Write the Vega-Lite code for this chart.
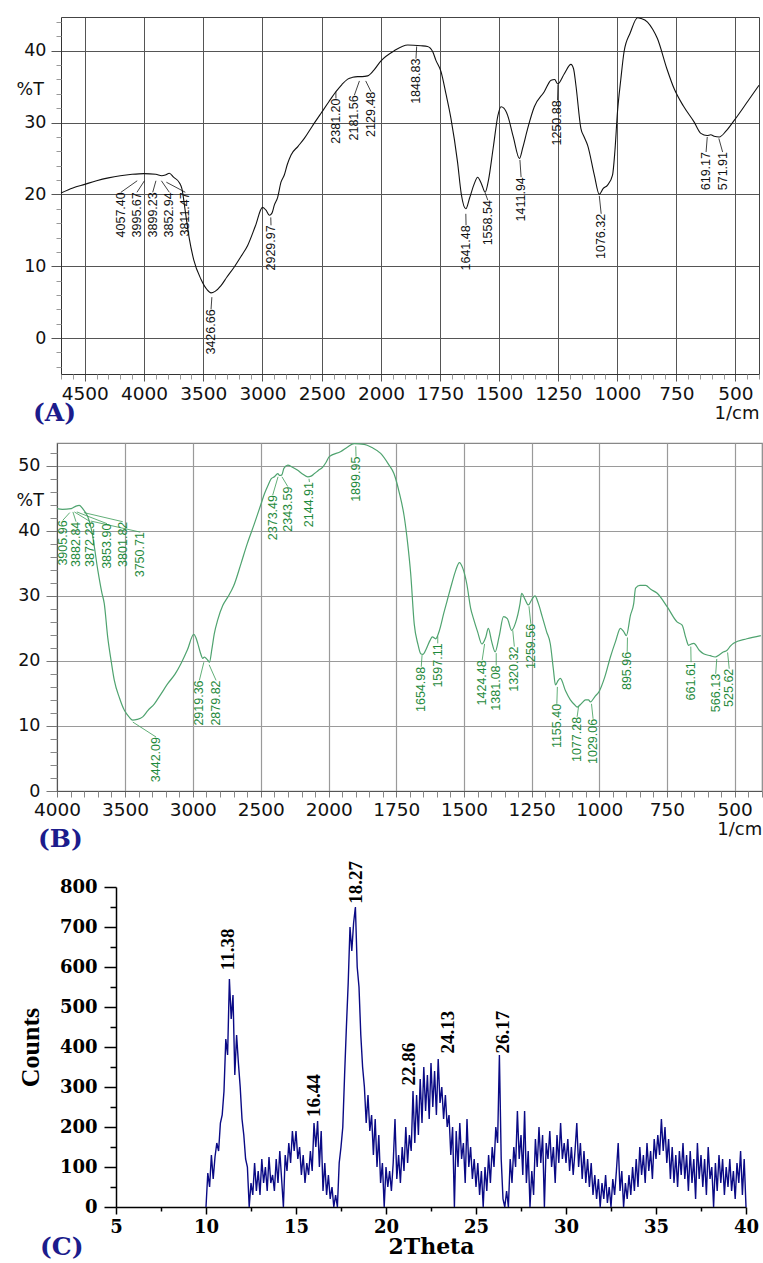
{
"$schema": "https://vega.github.io/schema/vega-lite/v6.json",
"padding": {"left": 15, "top": 15, "right": 0, "bottom": 0},
"background": "white",
"spacing": 8,
"config": {"view": {"stroke": null}, "axis": {"labelFontWeight": "normal", "titleFontWeight": "normal"}, "axisX": {"labelFlush": false}},
"datasets": {
"specA": [{"wn":4700,"t":20.2},{"wn":4600,"t":20.9},{"wn":4500,"t":21.4},{"wn":4400,"t":21.9},{"wn":4300,"t":22.3},{"wn":4200,"t":22.6},{"wn":4100,"t":22.8},{"wn":4000,"t":22.9},{"wn":3900,"t":22.8},{"wn":3850,"t":22.6},{"wn":3820,"t":22.7},{"wn":3786,"t":22.95},{"wn":3750,"t":22.4},{"wn":3700,"t":21.6},{"wn":3680,"t":20.8},{"wn":3650,"t":17.5},{"wn":3617,"t":13.8},{"wn":3580,"t":10.9},{"wn":3519,"t":8.2},{"wn":3470,"t":6.8},{"wn":3434,"t":6.3},{"wn":3400,"t":6.5},{"wn":3350,"t":7.3},{"wn":3300,"t":8.5},{"wn":3238,"t":9.9},{"wn":3180,"t":11.4},{"wn":3125,"t":12.9},{"wn":3060,"t":15.6},{"wn":3000,"t":18.2},{"wn":2970,"t":17.8},{"wn":2942,"t":17.1},{"wn":2920,"t":17.4},{"wn":2900,"t":18.5},{"wn":2872,"t":19.6},{"wn":2844,"t":21.7},{"wn":2816,"t":22.7},{"wn":2790,"t":24.2},{"wn":2759,"t":25.5},{"wn":2700,"t":26.7},{"wn":2647,"t":27.8},{"wn":2580,"t":29.5},{"wn":2506,"t":31.3},{"wn":2440,"t":32.9},{"wn":2380,"t":34.3},{"wn":2330,"t":35.3},{"wn":2281,"t":36.05},{"wn":2240,"t":36.3},{"wn":2197,"t":36.4},{"wn":2160,"t":36.4},{"wn":2113,"t":36.5},{"wn":2060,"t":37.3},{"wn":2000,"t":38.6},{"wn":1944,"t":40.0},{"wn":1887,"t":40.8},{"wn":1831,"t":40.7},{"wn":1803,"t":40.6},{"wn":1780,"t":39.8},{"wn":1768,"t":38.7},{"wn":1746,"t":37.1},{"wn":1725,"t":34.0},{"wn":1704,"t":30.6},{"wn":1676,"t":24.5},{"wn":1660,"t":20.0},{"wn":1641,"t":18.0},{"wn":1625,"t":19.5},{"wn":1605,"t":21.5},{"wn":1591,"t":22.4},{"wn":1575,"t":21.5},{"wn":1559,"t":20.3},{"wn":1545,"t":22.0},{"wn":1525,"t":26.5},{"wn":1505,"t":31.0},{"wn":1492,"t":32.2},{"wn":1480,"t":32.0},{"wn":1464,"t":31.0},{"wn":1440,"t":28.0},{"wn":1414,"t":25.0},{"wn":1400,"t":26.5},{"wn":1379,"t":29.2},{"wn":1351,"t":32.2},{"wn":1309,"t":34.3},{"wn":1280,"t":35.9},{"wn":1265,"t":36.0},{"wn":1252,"t":35.4},{"wn":1224,"t":36.8},{"wn":1196,"t":38.1},{"wn":1185,"t":37.5},{"wn":1175,"t":35.2},{"wn":1154,"t":29.2},{"wn":1140,"t":28.0},{"wn":1125,"t":26.8},{"wn":1097,"t":22.7},{"wn":1076,"t":20.0},{"wn":1060,"t":20.8},{"wn":1041,"t":21.3},{"wn":1020,"t":22.7},{"wn":1010,"t":26.0},{"wn":999,"t":31.5},{"wn":985,"t":36.0},{"wn":971,"t":39.9},{"wn":945,"t":42.5},{"wn":914,"t":44.6},{"wn":900,"t":44.5},{"wn":872,"t":44.0},{"wn":850,"t":43.0},{"wn":830,"t":41.7},{"wn":790,"t":37.5},{"wn":759,"t":34.7},{"wn":720,"t":32.3},{"wn":675,"t":30.1},{"wn":646,"t":28.5},{"wn":620,"t":28.2},{"wn":604,"t":28.3},{"wn":590,"t":28.1},{"wn":568,"t":28.0},{"wn":540,"t":28.8},{"wn":505,"t":30.3},{"wn":449,"t":32.9},{"wn":400,"t":35.2}],
"labA": [{"label":"4057.40","lx":4194,"top":20.3,"wn":4057,"tip":21.9},{"label":"3995.67","lx":4059,"top":20.3,"wn":3996,"tip":21.9},{"label":"3899.23","lx":3926,"top":20.3,"wn":3899,"tip":21.9},{"label":"3852.94","lx":3786,"top":20.3,"wn":3853,"tip":21.9},{"label":"3811.47","lx":3651,"top":20.3,"wn":3811,"tip":21.7},{"label":"3426.66","lx":3434,"top":4.0,"wn":3427,"tip":5.7},{"label":"2929.97","lx":2928,"top":15.7,"wn":2930,"tip":16.8},{"label":"2381.20","lx":2380,"top":33.35,"wn":2381,"tip":34.3},{"label":"2181.56","lx":2225,"top":33.8,"wn":2182,"tip":35.8},{"label":"2129.48","lx":2084,"top":34.3,"wn":2129,"tip":35.8},{"label":"1848.83","lx":1852,"top":38.9,"wn":1849,"tip":40.6},{"label":"1641.48","lx":1640,"top":15.7,"wn":1641,"tip":17.3},{"label":"1558.54","lx":1548,"top":19.2,"wn":1559,"tip":20.2},{"label":"1411.94","lx":1407,"top":22.4,"wn":1412,"tip":24.8},{"label":"1250.88","lx":1253,"top":33.1,"wn":1251,"tip":35.3},{"label":"1076.32","lx":1068,"top":17.3,"wn":1076,"tip":19.8},{"label":"619.17","lx":624,"top":25.9,"wn":619,"tip":28.0},{"label":"571.91","lx":554,"top":25.9,"wn":570,"tip":27.8}],
"specB": [{"wn":4000,"t":43.4},{"wn":3960,"t":43.3},{"wn":3897,"t":43.4},{"wn":3860,"t":43.8},{"wn":3836,"t":43.9},{"wn":3811,"t":43.4},{"wn":3790,"t":42.8},{"wn":3774,"t":42.2},{"wn":3740,"t":39.5},{"wn":3700,"t":34.0},{"wn":3670,"t":30.5},{"wn":3652,"t":28.8},{"wn":3627,"t":23.7},{"wn":3600,"t":19.8},{"wn":3578,"t":17.0},{"wn":3540,"t":14.3},{"wn":3504,"t":12.4},{"wn":3470,"t":11.4},{"wn":3443,"t":10.9},{"wn":3410,"t":11.0},{"wn":3369,"t":11.4},{"wn":3330,"t":12.4},{"wn":3283,"t":13.4},{"wn":3235,"t":14.9},{"wn":3185,"t":16.5},{"wn":3130,"t":18.0},{"wn":3087,"t":19.6},{"wn":3040,"t":21.7},{"wn":2993,"t":24.1},{"wn":2978,"t":23.6},{"wn":2964,"t":22.7},{"wn":2945,"t":21.3},{"wn":2927,"t":20.4},{"wn":2915,"t":20.6},{"wn":2903,"t":20.4},{"wn":2890,"t":20.1},{"wn":2878,"t":19.8},{"wn":2860,"t":21.8},{"wn":2842,"t":24.2},{"wn":2817,"t":26.3},{"wn":2780,"t":28.5},{"wn":2743,"t":29.8},{"wn":2700,"t":31.5},{"wn":2645,"t":35.0},{"wn":2600,"t":38.0},{"wn":2547,"t":41.1},{"wn":2500,"t":44.0},{"wn":2473,"t":45.7},{"wn":2440,"t":47.3},{"wn":2424,"t":48.0},{"wn":2400,"t":48.3},{"wn":2375,"t":48.8},{"wn":2360,"t":48.5},{"wn":2345,"t":48.6},{"wn":2330,"t":49.6},{"wn":2301,"t":50.1},{"wn":2270,"t":49.8},{"wn":2228,"t":49.3},{"wn":2190,"t":48.7},{"wn":2154,"t":48.3},{"wn":2130,"t":48.4},{"wn":2105,"t":48.8},{"wn":2075,"t":49.3},{"wn":2044,"t":49.8},{"wn":2020,"t":50.5},{"wn":1998,"t":51.4},{"wn":1955,"t":52.2},{"wn":1930,"t":52.9},{"wn":1906,"t":53.4},{"wn":1869,"t":53.3},{"wn":1840,"t":52.8},{"wn":1808,"t":51.9},{"wn":1780,"t":50.3},{"wn":1759,"t":48.8},{"wn":1740,"t":46.0},{"wn":1721,"t":42.2},{"wn":1708,"t":38.0},{"wn":1697,"t":33.4},{"wn":1684,"t":25.7},{"wn":1670,"t":22.5},{"wn":1660,"t":21.1},{"wn":1652,"t":21.0},{"wn":1640,"t":21.8},{"wn":1625,"t":23.2},{"wn":1617,"t":23.7},{"wn":1605,"t":23.4},{"wn":1590,"t":24.8},{"wn":1575,"t":27.3},{"wn":1562,"t":29.3},{"wn":1545,"t":31.9},{"wn":1530,"t":34.0},{"wn":1517,"t":35.1},{"wn":1505,"t":34.3},{"wn":1490,"t":31.9},{"wn":1475,"t":28.0},{"wn":1465,"t":26.5},{"wn":1450,"t":24.5},{"wn":1434,"t":22.6},{"wn":1420,"t":23.6},{"wn":1410,"t":25.0},{"wn":1398,"t":23.0},{"wn":1385,"t":21.4},{"wn":1370,"t":23.8},{"wn":1354,"t":26.8},{"wn":1340,"t":26.5},{"wn":1324,"t":24.7},{"wn":1310,"t":25.8},{"wn":1293,"t":28.8},{"wn":1287,"t":30.4},{"wn":1275,"t":29.5},{"wn":1262,"t":28.6},{"wn":1250,"t":29.4},{"wn":1238,"t":30.0},{"wn":1225,"t":28.8},{"wn":1211,"t":26.8},{"wn":1195,"t":24.5},{"wn":1181,"t":22.6},{"wn":1170,"t":18.8},{"wn":1162,"t":16.3},{"wn":1152,"t":17.0},{"wn":1144,"t":17.3},{"wn":1125,"t":15.4},{"wn":1107,"t":14.0},{"wn":1090,"t":13.2},{"wn":1082,"t":12.9},{"wn":1065,"t":13.5},{"wn":1051,"t":14.0},{"wn":1040,"t":14.0},{"wn":1033,"t":13.7},{"wn":1015,"t":14.6},{"wn":1002,"t":15.2},{"wn":980,"t":17.5},{"wn":959,"t":20.6},{"wn":940,"t":23.0},{"wn":922,"t":25.0},{"wn":910,"t":24.5},{"wn":900,"t":23.9},{"wn":885,"t":27.0},{"wn":873,"t":28.8},{"wn":866,"t":31.2},{"wn":850,"t":31.6},{"wn":829,"t":31.6},{"wn":810,"t":31.0},{"wn":786,"t":30.4},{"wn":749,"t":28.3},{"wn":713,"t":26.0},{"wn":694,"t":25.5},{"wn":680,"t":23.5},{"wn":670,"t":22.4},{"wn":660,"t":22.6},{"wn":651,"t":22.7},{"wn":630,"t":21.6},{"wn":615,"t":21.1},{"wn":590,"t":20.8},{"wn":572,"t":20.6},{"wn":555,"t":21.0},{"wn":540,"t":21.4},{"wn":529,"t":21.6},{"wn":515,"t":22.3},{"wn":504,"t":22.7},{"wn":455,"t":23.4},{"wn":403,"t":23.9}],
"labB": [{"label":"3905.96","lx":3958,"top":41.6,"wn":3906,"tip":42.8},{"label":"3882.84","lx":3860,"top":41.4,"wn":3883,"tip":42.9},{"label":"3872.23","lx":3755,"top":41.4,"wn":3872,"tip":42.9},{"label":"3853.90","lx":3632,"top":41.1,"wn":3854,"tip":42.9},{"label":"3801.82","lx":3516,"top":41.4,"wn":3802,"tip":42.8},{"label":"3750.71","lx":3387,"top":39.8,"wn":3751,"tip":41.5},{"label":"3442.09","lx":3271,"top":8.3,"wn":3442,"tip":10.6},{"label":"2919.36","lx":2952,"top":17.0,"wn":2919,"tip":19.8},{"label":"2879.82","lx":2829,"top":17.0,"wn":2880,"tip":19.4},{"label":"2373.49","lx":2412,"top":45.5,"wn":2373,"tip":48.3},{"label":"2343.59","lx":2301,"top":46.8,"wn":2344,"tip":48.3},{"label":"2144.91","lx":2142,"top":47.5,"wn":2145,"tip":48.0},{"label":"1899.95","lx":1899,"top":51.4,"wn":1900,"tip":53.0},{"label":"1654.98","lx":1658,"top":19.1,"wn":1655,"tip":20.9},{"label":"1597.11","lx":1597,"top":22.7,"wn":1597,"tip":23.8},{"label":"1424.48","lx":1433,"top":20.1,"wn":1424,"tip":22.6},{"label":"1381.08","lx":1381,"top":19.3,"wn":1381,"tip":21.2},{"label":"1320.32","lx":1314,"top":22.2,"wn":1320,"tip":24.7},{"label":"1259.56","lx":1253,"top":25.7,"wn":1260,"tip":28.4},{"label":"1155.40","lx":1157,"top":13.4,"wn":1155,"tip":16.0},{"label":"1077.28","lx":1082,"top":11.4,"wn":1077,"tip":12.9},{"label":"1029.06","lx":1023,"top":11.1,"wn":1029,"tip":13.4},{"label":"895.96","lx":897,"top":21.4,"wn":896,"tip":23.6},{"label":"661.61","lx":661,"top":19.8,"wn":662,"tip":22.2},{"label":"566.13","lx":570,"top":18.0,"wn":566,"tip":20.3},{"label":"525.62","lx":520,"top":18.8,"wn":526,"tip":21.3}],
"xrd": [{"theta":10.0,"counts":0},{"theta":10.1,"counts":85},{"theta":10.2,"counts":50},{"theta":10.3,"counts":130},{"theta":10.4,"counts":70},{"theta":10.5,"counts":125},{"theta":10.6,"counts":160},{"theta":10.7,"counts":140},{"theta":10.8,"counts":210},{"theta":10.9,"counts":230},{"theta":11.0,"counts":290},{"theta":11.1,"counts":420},{"theta":11.2,"counts":380},{"theta":11.3,"counts":570},{"theta":11.4,"counts":470},{"theta":11.5,"counts":530},{"theta":11.6,"counts":330},{"theta":11.7,"counts":430},{"theta":11.8,"counts":360},{"theta":11.9,"counts":300},{"theta":12.0,"counts":220},{"theta":12.1,"counts":180},{"theta":12.2,"counts":120},{"theta":12.3,"counts":100},{"theta":12.4,"counts":0},{"theta":12.5,"counts":60},{"theta":12.6,"counts":30},{"theta":12.7,"counts":110},{"theta":12.8,"counts":40},{"theta":12.9,"counts":90},{"theta":13.0,"counts":30},{"theta":13.1,"counts":120},{"theta":13.2,"counts":60},{"theta":13.3,"counts":100},{"theta":13.4,"counts":40},{"theta":13.5,"counts":125},{"theta":13.6,"counts":60},{"theta":13.7,"counts":80},{"theta":13.8,"counts":40},{"theta":13.9,"counts":120},{"theta":14.0,"counts":60},{"theta":14.1,"counts":140},{"theta":14.2,"counts":70},{"theta":14.3,"counts":0},{"theta":14.4,"counts":130},{"theta":14.5,"counts":90},{"theta":14.6,"counts":160},{"theta":14.7,"counts":110},{"theta":14.8,"counts":190},{"theta":14.9,"counts":140},{"theta":15.0,"counts":190},{"theta":15.1,"counts":120},{"theta":15.2,"counts":150},{"theta":15.3,"counts":80},{"theta":15.4,"counts":130},{"theta":15.5,"counts":60},{"theta":15.6,"counts":110},{"theta":15.7,"counts":80},{"theta":15.8,"counts":140},{"theta":15.9,"counts":90},{"theta":16.0,"counts":210},{"theta":16.1,"counts":150},{"theta":16.2,"counts":215},{"theta":16.3,"counts":100},{"theta":16.4,"counts":190},{"theta":16.5,"counts":40},{"theta":16.6,"counts":110},{"theta":16.7,"counts":30},{"theta":16.8,"counts":80},{"theta":16.9,"counts":20},{"theta":17.0,"counts":50},{"theta":17.1,"counts":0},{"theta":17.2,"counts":30},{"theta":17.3,"counts":0},{"theta":17.4,"counts":110},{"theta":17.5,"counts":150},{"theta":17.6,"counts":200},{"theta":17.7,"counts":330},{"theta":17.8,"counts":450},{"theta":17.9,"counts":560},{"theta":18.0,"counts":700},{"theta":18.1,"counts":640},{"theta":18.2,"counts":710},{"theta":18.3,"counts":750},{"theta":18.4,"counts":600},{"theta":18.5,"counts":550},{"theta":18.6,"counts":430},{"theta":18.7,"counts":350},{"theta":18.8,"counts":300},{"theta":18.9,"counts":210},{"theta":19.0,"counts":280},{"theta":19.1,"counts":190},{"theta":19.2,"counts":230},{"theta":19.3,"counts":130},{"theta":19.4,"counts":220},{"theta":19.5,"counts":100},{"theta":19.6,"counts":180},{"theta":19.7,"counts":60},{"theta":19.8,"counts":110},{"theta":19.9,"counts":0},{"theta":20.0,"counts":100},{"theta":20.1,"counts":50},{"theta":20.2,"counts":90},{"theta":20.3,"counts":40},{"theta":20.4,"counts":110},{"theta":20.5,"counts":220},{"theta":20.6,"counts":70},{"theta":20.7,"counts":130},{"theta":20.8,"counts":60},{"theta":20.9,"counts":150},{"theta":21.0,"counts":90},{"theta":21.1,"counts":200},{"theta":21.2,"counts":110},{"theta":21.3,"counts":180},{"theta":21.4,"counts":140},{"theta":21.5,"counts":290},{"theta":21.6,"counts":160},{"theta":21.7,"counts":280},{"theta":21.8,"counts":180},{"theta":21.9,"counts":320},{"theta":22.0,"counts":210},{"theta":22.1,"counts":350},{"theta":22.2,"counts":240},{"theta":22.3,"counts":330},{"theta":22.4,"counts":220},{"theta":22.5,"counts":360},{"theta":22.6,"counts":250},{"theta":22.7,"counts":340},{"theta":22.8,"counts":230},{"theta":22.9,"counts":370},{"theta":23.0,"counts":260},{"theta":23.1,"counts":300},{"theta":23.2,"counts":220},{"theta":23.3,"counts":280},{"theta":23.4,"counts":200},{"theta":23.5,"counts":230},{"theta":23.6,"counts":130},{"theta":23.7,"counts":200},{"theta":23.8,"counts":0},{"theta":23.9,"counts":190},{"theta":24.0,"counts":100},{"theta":24.1,"counts":210},{"theta":24.2,"counts":120},{"theta":24.3,"counts":160},{"theta":24.4,"counts":60},{"theta":24.5,"counts":220},{"theta":24.6,"counts":100},{"theta":24.7,"counts":150},{"theta":24.8,"counts":70},{"theta":24.9,"counts":120},{"theta":25.0,"counts":50},{"theta":25.1,"counts":110},{"theta":25.2,"counts":30},{"theta":25.3,"counts":90},{"theta":25.4,"counts":0},{"theta":25.5,"counts":100},{"theta":25.6,"counts":40},{"theta":25.7,"counts":130},{"theta":25.8,"counts":60},{"theta":25.9,"counts":150},{"theta":26.0,"counts":100},{"theta":26.1,"counts":200},{"theta":26.2,"counts":160},{"theta":26.3,"counts":380},{"theta":26.4,"counts":120},{"theta":26.5,"counts":20},{"theta":26.6,"counts":0},{"theta":26.7,"counts":40},{"theta":26.8,"counts":0},{"theta":26.9,"counts":120},{"theta":27.0,"counts":60},{"theta":27.1,"counts":150},{"theta":27.2,"counts":100},{"theta":27.3,"counts":240},{"theta":27.4,"counts":120},{"theta":27.5,"counts":180},{"theta":27.6,"counts":80},{"theta":27.7,"counts":240},{"theta":27.8,"counts":60},{"theta":27.9,"counts":140},{"theta":28.0,"counts":0},{"theta":28.1,"counts":90},{"theta":28.2,"counts":30},{"theta":28.3,"counts":170},{"theta":28.4,"counts":100},{"theta":28.5,"counts":200},{"theta":28.6,"counts":110},{"theta":28.7,"counts":180},{"theta":28.8,"counts":0},{"theta":28.9,"counts":160},{"theta":29.0,"counts":120},{"theta":29.1,"counts":190},{"theta":29.2,"counts":100},{"theta":29.3,"counts":150},{"theta":29.4,"counts":60},{"theta":29.5,"counts":180},{"theta":29.6,"counts":110},{"theta":29.7,"counts":210},{"theta":29.8,"counts":120},{"theta":29.9,"counts":160},{"theta":30.0,"counts":110},{"theta":30.1,"counts":170},{"theta":30.2,"counts":90},{"theta":30.3,"counts":150},{"theta":30.4,"counts":80},{"theta":30.5,"counts":140},{"theta":30.6,"counts":210},{"theta":30.7,"counts":100},{"theta":30.8,"counts":160},{"theta":30.9,"counts":70},{"theta":31.0,"counts":140},{"theta":31.1,"counts":60},{"theta":31.2,"counts":120},{"theta":31.3,"counts":50},{"theta":31.4,"counts":110},{"theta":31.5,"counts":30},{"theta":31.6,"counts":80},{"theta":31.7,"counts":20},{"theta":31.8,"counts":70},{"theta":31.9,"counts":0},{"theta":32.0,"counts":60},{"theta":32.1,"counts":20},{"theta":32.2,"counts":80},{"theta":32.3,"counts":10},{"theta":32.4,"counts":50},{"theta":32.5,"counts":0},{"theta":32.6,"counts":70},{"theta":32.7,"counts":30},{"theta":32.8,"counts":90},{"theta":32.9,"counts":160},{"theta":33.0,"counts":40},{"theta":33.1,"counts":90},{"theta":33.2,"counts":0},{"theta":33.3,"counts":60},{"theta":33.4,"counts":20},{"theta":33.5,"counts":80},{"theta":33.6,"counts":30},{"theta":33.7,"counts":100},{"theta":33.8,"counts":40},{"theta":33.9,"counts":120},{"theta":34.0,"counts":50},{"theta":34.1,"counts":150},{"theta":34.2,"counts":80},{"theta":34.3,"counts":130},{"theta":34.4,"counts":60},{"theta":34.5,"counts":160},{"theta":34.6,"counts":90},{"theta":34.7,"counts":140},{"theta":34.8,"counts":70},{"theta":34.9,"counts":170},{"theta":35.0,"counts":120},{"theta":35.1,"counts":180},{"theta":35.2,"counts":130},{"theta":35.3,"counts":220},{"theta":35.4,"counts":140},{"theta":35.5,"counts":200},{"theta":35.6,"counts":110},{"theta":35.7,"counts":170},{"theta":35.8,"counts":70},{"theta":35.9,"counts":150},{"theta":36.0,"counts":60},{"theta":36.1,"counts":130},{"theta":36.2,"counts":50},{"theta":36.3,"counts":140},{"theta":36.4,"counts":80},{"theta":36.5,"counts":160},{"theta":36.6,"counts":70},{"theta":36.7,"counts":130},{"theta":36.8,"counts":40},{"theta":36.9,"counts":140},{"theta":37.0,"counts":60},{"theta":37.1,"counts":120},{"theta":37.2,"counts":20},{"theta":37.3,"counts":160},{"theta":37.4,"counts":70},{"theta":37.5,"counts":130},{"theta":37.6,"counts":50},{"theta":37.7,"counts":120},{"theta":37.8,"counts":30},{"theta":37.9,"counts":150},{"theta":38.0,"counts":70},{"theta":38.1,"counts":100},{"theta":38.2,"counts":0},{"theta":38.3,"counts":110},{"theta":38.4,"counts":40},{"theta":38.5,"counts":130},{"theta":38.6,"counts":60},{"theta":38.7,"counts":120},{"theta":38.8,"counts":30},{"theta":38.9,"counts":100},{"theta":39.0,"counts":50},{"theta":39.1,"counts":120},{"theta":39.2,"counts":40},{"theta":39.3,"counts":90},{"theta":39.4,"counts":20},{"theta":39.5,"counts":110},{"theta":39.6,"counts":60},{"theta":39.7,"counts":140},{"theta":39.8,"counts":30},{"theta":39.9,"counts":120},{"theta":40.0,"counts":0}],
"labC": [{"label":"11.38","theta":11.2,"counts":592},{"label":"16.44","theta":16.02,"counts":225},{"label":"18.27","theta":18.33,"counts":758},{"label":"22.86","theta":21.3,"counts":304},{"label":"24.13","theta":23.43,"counts":384},{"label":"26.17","theta":26.48,"counts":384}]
},
"vconcat": [
{
"width": 702, "height": 357,
"title": {"text": "(A)", "subtitle": " ", "subtitleFontSize": 6, "subtitlePadding": 0, "orient": "bottom", "anchor": "start", "font": "DejaVu Serif", "fontSize": 25, "fontWeight": "bold", "color": "#1c1c8c", "offset": -22, "dx": 17},
"layer": [
{"data": {"name": "specA"}, "mark": {"type": "line", "color": "#111111", "strokeWidth": 1.1, "interpolate": "monotone"},
 "encoding": {
  "x": {"field": "wn", "type": "quantitative", "scale": {"domain": [4700, 2000, 400], "range": [4, 324, 702], "nice": false, "zero": false},
   "axis": {"values": [4500,4000,3500,3000,2500,2000,1750,1500,1250,1000,750,500], "format": "d", "grid": true, "gridColor": "#555555", "gridWidth": 1, "tickColor": "#555555", "tickSize": 7, "labelPadding": 3, "labelFont": "DejaVu Sans", "labelFontSize": 18.5, "labelColor": "#111111", "domainColor": "#333333", "title": "1/cm", "titleAnchor": "end", "titleFont": "DejaVu Sans", "titleFontSize": 18, "titleColor": "#111111", "titlePadding": 2}},
  "y": {"field": "t", "type": "quantitative", "scale": {"domain": [-5, 44.7], "nice": false, "zero": false},
   "axis": {"offset": -4, "values": [0,10,20,30,40], "grid": true, "gridColor": "#555555", "gridWidth": 1, "tickColor": "#555555", "tickSize": 10, "labelPadding": 5, "labelFont": "DejaVu Sans", "labelFontSize": 17.5, "labelColor": "#111111", "domainColor": "#333333", "title": "%T", "titleAngle": 0, "titleX": -45, "titleY": 72, "titleAlign": "left", "titleBaseline": "middle", "titleFont": "DejaVu Sans", "titleFontSize": 17.5, "titleColor": "#111111"}}
 }},
{"data": {"name": "labA"}, "mark": {"type": "rule", "color": "#111111", "strokeWidth": 0.8},
 "encoding": {
  "x": {"field": "lx", "type": "quantitative", "scale": {"domain": [4700, 2000, 400], "range": [4, 324, 702], "nice": false, "zero": false},
   "axis": {"orient": "top", "domain": true, "domainColor": "#444444", "ticks": false, "labels": false, "grid": false, "title": null}},
  "x2": {"field": "wn"},
  "y": {"field": "top", "type": "quantitative", "scale": {"domain": [-5, 44.7], "nice": false, "zero": false},
   "axis": {"orient": "right", "domain": true, "domainColor": "#444444", "ticks": false, "labels": false, "grid": false, "title": null}},
  "y2": {"field": "tip"}
 }},
{"data": {"name": "labA"}, "mark": {"type": "text", "angle": 270, "align": "right", "baseline": "middle", "font": "Liberation Sans", "fontSize": 12.5, "color": "#111111"},
 "encoding": {
  "x": {"field": "lx", "type": "quantitative", "scale": {"domain": [4700, 2000, 400], "range": [4, 324, 702], "nice": false, "zero": false},
   "axis": {"orient": "bottom", "values": [4700,4600,4400,4300,4200,4100,3900,3800,3700,3600,3400,3300,3200,3100,2900,2800,2700,2600,2400,2300,2200,2100,1950,1900,1850,1800,1700,1650,1600,1550,1450,1400,1350,1300,1200,1150,1100,1050,950,900,850,800,700,650,600,550,450,400], "labels": false, "domain": false, "grid": false, "tickSize": 5, "tickColor": "#999999", "title": null}},
  "y": {"field": "top", "type": "quantitative", "scale": {"domain": [-5, 44.7], "nice": false, "zero": false},
   "axis": {"orient": "left", "offset": -4, "values": [-4,-2,2,4,6,8,12,14,16,18,22,24,26,28,32,34,36,38,42,44], "labels": false, "domain": false, "grid": false, "tickSize": 5, "tickColor": "#999999", "title": null}},
  "text": {"field": "label"}
 }}
],
"resolve": {"scale": {"x": "independent", "y": "independent"}}
},
{
"width": 705, "height": 348,
"view": {"stroke": "#888888", "strokeWidth": 1.2},
"title": {"text": "(B)", "orient": "bottom", "anchor": "start", "font": "DejaVu Serif", "fontSize": 25, "fontWeight": "bold", "color": "#1c1c8c", "offset": -12, "dx": 22},
"layer": [
{"data": {"name": "specB"}, "mark": {"type": "line", "color": "#4fa36f", "strokeWidth": 1.2, "interpolate": "monotone"},
 "encoding": {
  "x": {"field": "wn", "type": "quantitative", "scale": {"domain": [4000, 2000, 400], "range": [0, 271.7, 704.7], "nice": false, "zero": false},
   "axis": {"values": [4000,3500,3000,2500,2000,1750,1500,1250,1000,750,500], "format": "d", "labelFlush": false, "grid": true, "gridColor": "#9a9a9a", "gridWidth": 1.2, "tickColor": "#777777", "tickSize": 6, "labelPadding": 3, "labelFont": "DejaVu Sans", "labelFontSize": 18.5, "labelColor": "#111111", "domainColor": "#555555", "title": "1/cm", "titleAnchor": "end", "titleFont": "DejaVu Sans", "titleFontSize": 18, "titleColor": "#111111", "titlePadding": 2}},
  "y": {"field": "t", "type": "quantitative", "scale": {"domain": [0, 53.5], "nice": false, "zero": false},
   "axis": {"values": [0,10,20,30,40,50], "grid": true, "gridColor": "#9a9a9a", "gridWidth": 1.2, "tickColor": "#777777", "tickSize": 11, "labelPadding": 6, "labelFont": "DejaVu Sans", "labelFontSize": 17.5, "labelColor": "#111111", "domainColor": "#555555", "title": "%T", "titleAngle": 0, "titleX": -41, "titleY": 57, "titleAlign": "left", "titleBaseline": "middle", "titleFont": "DejaVu Sans", "titleFontSize": 17.5, "titleColor": "#111111"}}
 }},
{"data": {"name": "labB"}, "mark": {"type": "rule", "color": "#3a9a55", "strokeWidth": 0.8},
 "encoding": {
  "x": {"field": "lx", "type": "quantitative", "scale": {"domain": [4000, 2000, 400], "range": [0, 271.7, 704.7], "nice": false, "zero": false}, "axis": null},
  "x2": {"field": "wn"},
  "y": {"field": "top", "type": "quantitative", "scale": {"domain": [0, 53.5], "nice": false, "zero": false}, "axis": null},
  "y2": {"field": "tip"}
 }},
{"data": {"name": "labB"}, "mark": {"type": "text", "angle": 270, "align": "right", "baseline": "middle", "font": "Liberation Sans", "fontSize": 12.5, "color": "#1f8a3c"},
 "encoding": {
  "x": {"field": "lx", "type": "quantitative", "scale": {"domain": [4000, 2000, 400], "range": [0, 271.7, 704.7], "nice": false, "zero": false},
   "axis": {"orient": "bottom", "values": [3900,3800,3700,3600,3400,3300,3200,3100,2900,2800,2700,2600,2400,2300,2200,2100,1950,1900,1850,1800,1700,1650,1600,1550,1450,1400,1350,1300,1200,1150,1100,1050,950,900,850,800,700,650,600,550,450,400], "labels": false, "domain": false, "grid": false, "tickSize": 6, "tickColor": "#888888", "title": null}},
  "y": {"field": "top", "type": "quantitative", "scale": {"domain": [0, 53.5], "nice": false, "zero": false},
   "axis": {"orient": "left", "values": [2,4,6,8,12,14,16,18,22,24,26,28,32,34,36,38,42,44,46,48,52], "labels": false, "domain": false, "grid": false, "tickSize": 7, "tickColor": "#888888", "title": null}},
  "text": {"field": "label"}
 }}
],
"resolve": {"scale": {"x": "independent", "y": "independent"}}
},
{
"width": 689, "height": 320,
"title": {"text": "(C)", "orient": "bottom", "anchor": "start", "font": "DejaVu Serif", "fontSize": 25, "fontWeight": "bold", "color": "#1c1c8c", "offset": -22, "dx": 23},
"layer": [
{"data": {"name": "xrd"}, "mark": {"type": "line", "color": "#0a0a85", "strokeWidth": 1.4},
 "encoding": {
  "x": {"field": "theta", "type": "quantitative", "scale": {"domain": [5, 40], "range": [59, 689], "nice": false, "zero": false},
   "axis": {"values": [5,10,15,20,25,30,35,40], "labelFlush": false, "grid": false, "tickColor": "#000000", "tickWidth": 1.5, "tickSize": 7, "labelPadding": 4, "labelFont": "DejaVu Serif", "labelFontSize": 18, "labelFontWeight": "bold", "labelColor": "#000000", "domainColor": "#000000", "domainWidth": 1.5, "title": "2Theta", "titleFont": "DejaVu Serif", "titleFontSize": 22, "titleFontWeight": "bold", "titleColor": "#000000", "titlePadding": 0}},
  "y": {"field": "counts", "type": "quantitative", "scale": {"domain": [0, 800], "nice": false, "zero": false},
   "axis": {"offset": -59, "values": [0,100,200,300,400,500,600,700,800], "grid": false, "tickColor": "#000000", "tickWidth": 1.5, "tickSize": 12, "labelPadding": 7, "labelFont": "DejaVu Serif", "labelFontSize": 18, "labelFontWeight": "bold", "labelColor": "#000000", "domainColor": "#000000", "domainWidth": 1.5, "title": "Counts", "titleFont": "Liberation Serif", "titleFontSize": 26, "titleFontWeight": "bold", "titleColor": "#000000", "titleAngle": 270, "titleX": -99, "titleY": 160, "titleAlign": "center", "titleBaseline": "top"}}
 }},
{"data": {"name": "labC"}, "mark": {"type": "text", "angle": 270, "align": "left", "baseline": "middle", "font": "Liberation Serif", "fontSize": 19, "fontWeight": "bold", "color": "#000000"},
 "encoding": {
  "x": {"field": "theta", "type": "quantitative", "scale": {"domain": [5, 40], "range": [59, 689], "nice": false, "zero": false},
   "axis": {"orient": "bottom", "values": [7.5,12.5,17.5,22.5,27.5,32.5,37.5], "labels": false, "domain": false, "grid": false, "tickSize": 4, "tickWidth": 1.5, "tickColor": "#000000", "title": null}},
  "y": {"field": "counts", "type": "quantitative", "scale": {"domain": [0, 800], "nice": false, "zero": false},
   "axis": {"orient": "left", "offset": -59, "values": [50,150,250,350,450,550,650,750], "labels": false, "domain": false, "grid": false, "tickSize": 6, "tickWidth": 1.5, "tickColor": "#000000", "title": null}},
  "text": {"field": "label"}
 }}
],
"resolve": {"scale": {"x": "independent", "y": "independent"}}
}
]
}
